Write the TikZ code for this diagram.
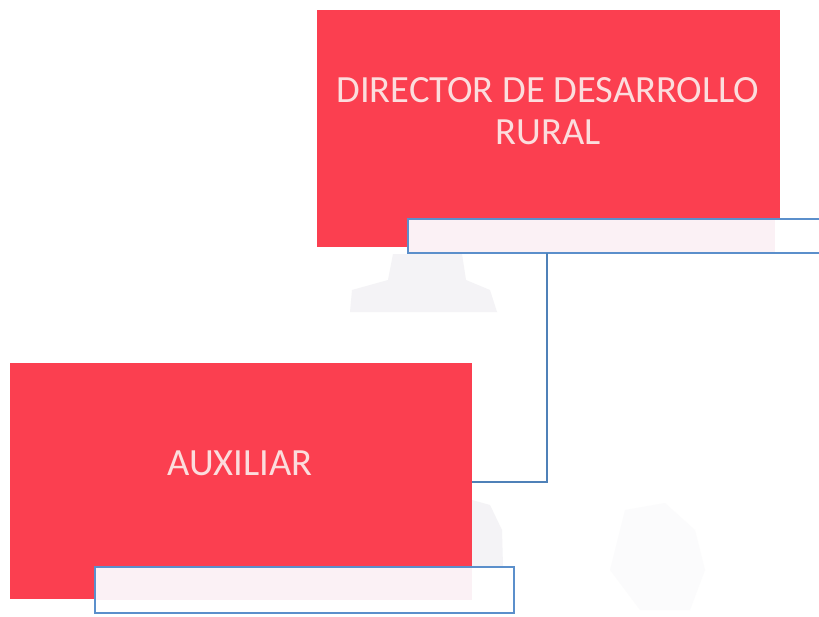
\documentclass[tikz,border=0pt]{standalone}
\usepackage{fontspec}
\setmainfont{Carlito}
\definecolor{redbox}{HTML}{FB3F50}
\definecolor{edgeblue}{HTML}{5B8FCB}
\definecolor{linkblue}{HTML}{4F81B8}
\definecolor{pale}{HTML}{FBF1F5}
\definecolor{ghost}{HTML}{F4F3F6}
\definecolor{ghostb}{HTML}{FBFBFC}
\definecolor{txt}{HTML}{FBDDDD}
\tikzset{
  redcard/.style={draw=none,fill=redbox,inner sep=0pt,outer sep=0pt,anchor=north west},
  cardtext/.style={text=txt,align=center,inner sep=0pt,font=\fontsize{38.5}{42}\selectfont},
  namebox/.style={draw=edgeblue,line width=1.6pt,fill=white,inner sep=0pt,outer sep=0pt,anchor=north west},
  link/.style={draw=linkblue,line width=1.6pt}
}
\begin{document}
\begin{tikzpicture}[x=1pt,y=-1pt]
\useasboundingbox (0,0) rectangle (819,616);
\fill[white] (0,0) rectangle (819,616);
% faint show-through marks
\fill[ghost] (393,254) -- (462,254) -- (466,280) -- (490,290) -- (497,312) -- (350,312) -- (352,290) -- (388,280) -- cycle;
\fill[ghost] (472,500) -- (490,505) -- (502,530) -- (503,566) -- (472,566) -- cycle;
\fill[ghostb] (625,510) -- (665,503) -- (695,530) -- (705,570) -- (690,610) -- (640,610) -- (610,570) -- cycle;
% red cards
\node[redcard,minimum width=463pt,minimum height=237pt] (director) at (317,10) {};
\node[redcard,minimum width=462pt,minimum height=236pt] (aux) at (10,363) {};
\node[cardtext] (dirtext) at (548,111) {DIRECTOR DE DESARROLLO\\RURAL};
\node[cardtext] (auxtext) at (240,463) {AUXILIAR};
% name boxes
\node[namebox,minimum width=418pt,minimum height=34pt,
  path picture={\fill[pale] (path picture bounding box.north west) rectangle ([xshift=367pt]path picture bounding box.south west);}] (dirname) at (408,219) {};
\node[namebox,minimum width=419pt,minimum height=46pt,
  path picture={\fill[pale] (path picture bounding box.north west) rectangle ([xshift=377pt,yshift=-33pt]path picture bounding box.north west);}] (auxname) at (95,567) {};
% connector
\coordinate (bend) at (547,482);
\draw[link] (dirname.south -| bend) -- (bend) -- (bend -| aux.east);
\end{tikzpicture}
\end{document}
